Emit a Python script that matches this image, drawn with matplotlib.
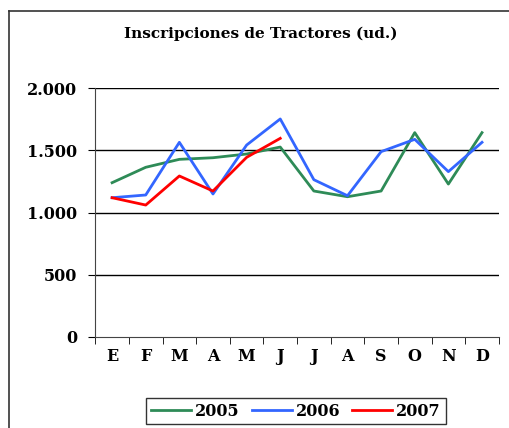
import numpy as np
import matplotlib.pyplot as plt
from matplotlib.lines import Line2D

meses = ['E', 'F', 'M', 'A', 'M', 'J', 'J', 'A', 'S', 'O', 'N', 'D']
v2005 = [1240, 1364, 1428, 1441, 1471, 1527, 1173, 1127, 1173, 1643, 1229, 1643]
v2006 = [1119, 1141, 1565, 1149, 1543, 1753, 1264, 1135, 1490, 1589, 1329, 1565]
v2007 = [1119, 1060, 1294, 1173, 1444, 1597]
yticks = [0, 500, 1000, 1500, 2000]
ylabels = ['0', '500', '1.000', '1.500', '2.000']

plt.rcParams['font.family'] = ['DejaVu Serif']

fig = plt.figure(figsize=(5.09, 4.28), dpi=100)
ax = fig.add_axes([0.1872, 0.2133, 0.7928, 0.5804])

# outer chart frame (only top and left edges are visible)
fx, fy = 8.5/509, 1 - 10.5/428
fig.lines.append(Line2D([fx, 1.0], [fy, fy], transform=fig.transFigure,
                        color='#333333', lw=1.2))
fig.lines.append(Line2D([fx, fx], [0, fy], transform=fig.transFigure,
                        color='#333333', lw=1.2))

x = np.arange(len(meses))
ax.plot(x, v2005, color='#2e8b57', lw=2, label='2005')
ax.plot(x, v2006, color='#3366ff', lw=2, label='2006')
ax.plot(np.arange(len(v2007)), v2007, color='#ff0000', lw=2, label='2007')

ax.set_xlim(-0.5, len(meses) - 0.5)
ax.set_ylim(0, 2000)
ax.set_yticks(yticks)
ax.set_yticklabels(ylabels, fontsize=11.5, fontweight='bold')
ax.set_xticks(x)
ax.set_xticklabels(meses, fontsize=11.5, fontweight='bold')
ax.set_xticks(np.arange(-0.5, len(meses)), minor=True)
ax.tick_params(axis='x', which='major', length=0, pad=8)
ax.tick_params(axis='x', which='minor', length=5, direction='out')
ax.tick_params(axis='y', length=5, direction='out', pad=8)

for v in yticks[1:]:
    ax.axhline(v, color='black', lw=1, zorder=0)
for s in ['top', 'right']:
    ax.spines[s].set_visible(False)
ax.spines['left'].set_color('#444444')
ax.spines['bottom'].set_color('#444444')

fig.text(261/509, 1 - 34/428, 'Inscripciones de Tractores (ud.)',
         ha='center', va='center', fontsize=11, fontweight='bold')

leg = fig.legend(loc='center', bbox_to_anchor=(296/509, 1 - 411/428), ncol=3,
                 frameon=True, fancybox=False, edgecolor='black',
                 prop={'size': 11.5, 'weight': 'bold'}, handlelength=2.5,
                 columnspacing=0.75, handletextpad=0.25, borderpad=0.3)
leg.get_frame().set_linewidth(1)

fig.savefig('out.png', dpi=100)
